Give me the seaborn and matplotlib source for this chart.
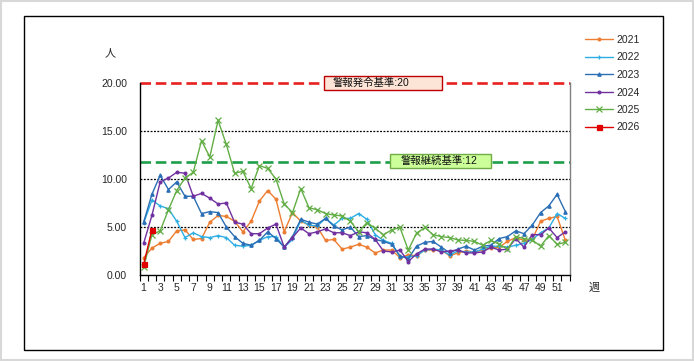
import numpy as np
import pandas as pd
import matplotlib
matplotlib.use("Agg")
import matplotlib.pyplot as plt
from matplotlib.patches import Rectangle
import seaborn as sns

# weekly counts per sentinel site (人), weeks 1..52
weeks = list(range(1, 53))
y2021 = [1.8, 2.8, 3.3, 3.5, 4.6, 4.7, 3.7, 3.8, 5.5, 6.2, 6.1, 5.6, 4.5, 5.6, 7.7, 8.8, 7.9, 4.5, 6.5, 5.6,
         5.2, 5.0, 3.6, 3.7, 2.7, 2.9, 3.2, 2.9, 2.3, 2.6, 2.6, 1.8, 2.1, 2.0, 2.6, 2.6, 2.6, 2.0, 2.3, 2.5,
         2.4, 2.6, 2.8, 2.9, 3.5, 3.9, 3.6, 3.7, 5.6, 5.9, 6.1, 3.6]
y2022 = [5.4, 7.8, 7.2, 6.9, 5.6, 3.9, 4.4, 4.0, 3.9, 4.1, 3.9, 3.1, 3.0, 3.1, 3.6, 4.0, 4.0, 2.9, 3.7, 5.7,
         5.2, 5.1, 5.9, 5.2, 5.9, 5.9, 6.4, 5.8, 4.2, 3.6, 3.3, 1.9, 1.9, 2.0, 2.6, 2.7, 2.6, 2.1, 2.5, 2.4,
         2.4, 2.7, 3.0, 3.0, 2.9, 3.1, 3.3, 3.7, 4.4, 4.9, 6.4, 5.9]
y2023 = [5.5, 8.4, 10.4, 8.9, 9.7, 8.2, 8.2, 6.4, 6.6, 6.5, 5.0, 4.0, 3.3, 3.1, 3.6, 4.5, 3.8, 2.9, 4.0, 5.8,
         5.5, 5.3, 5.9, 5.1, 4.7, 5.0, 4.0, 4.1, 3.7, 3.5, 3.2, 2.0, 1.7, 3.0, 3.4, 3.5, 2.9, 2.3, 2.7, 3.0,
         2.6, 3.0, 3.1, 3.8, 4.0, 4.6, 4.3, 5.2, 6.5, 7.2, 8.4, 6.6]
y2024 = [3.3, 6.2, 9.7, 10.1, 10.7, 10.6, 8.2, 8.5, 8.0, 7.4, 7.5, 5.5, 5.3, 4.3, 4.3, 4.9, 5.3, 2.9, 3.9, 4.9,
         4.3, 4.5, 4.8, 4.4, 4.4, 4.1, 4.5, 4.4, 3.7, 2.5, 2.4, 2.6, 1.4, 2.2, 2.7, 2.7, 2.4, 2.5, 2.6, 2.3,
         2.3, 2.4, 2.9, 2.6, 2.7, 3.8, 2.9, 4.2, 4.2, 4.9, 3.9, 4.5]
y2025 = [0.8, 4.2, 4.6, 6.8, 8.8, 10.1, 10.7, 14.0, 12.3, 16.1, 13.6, 10.6, 10.8, 9.0, 11.4, 11.1, 10.0, 7.4,
         6.5, 9.0, 7.0, 6.8, 6.4, 6.25, 6.15, 5.6, 4.5, 5.45, 4.85, 4.2, 4.7, 4.95, 2.6, 4.35, 4.95, 4.2, 4.0,
         3.9, 3.65, 3.6, 3.5, 3.1, 3.6, 3.2, 2.7, 4.0, 3.8, 3.65, 3.0, 4.1, 3.2, 3.4]
y2026 = [1.1, 4.7]

alert_level = 20
continue_level = 11.8
alert_text = "警報発令基準:20"
continue_text = "警報継続基準:12"

series = [
    ("2021", y2021, "#ED7D31", "o", 2.0),
    ("2022", y2022, "#2CADE3", "+", 3.0),
    ("2023", y2023, "#2A6EB5", "^", 2.4),
    ("2024", y2024, "#7030A0", "o", 2.0),
    ("2025", y2025, "#62AE45", "x", 4.0),
    ("2026", y2026, "#E00000", "s", 3.6),
]

sns.set_style("white")
plt.rcParams["font.family"] = ["Liberation Sans", "Noto Sans CJK JP", "DejaVu Sans"]

W, H = 694, 361
fig = plt.figure(figsize=(W / 100, H / 100), dpi=100)
ax = fig.add_axes([139.5 / W, 1 - 275 / H, 430 / W, 192 / H])

# frames
fig.patches.append(Rectangle((0.002, 0.003), 0.996, 0.994, transform=fig.transFigure,
                             fill=False, edgecolor="#d8d8d8", linewidth=1.5))
fig.patches.append(Rectangle((24 / W, 1 - 350 / H), (663 - 24) / W, (350 - 16) / H,
                             transform=fig.transFigure, fill=False, edgecolor="black", linewidth=1))

# grid lines
for g in [5, 10, 15]:
    ax.axhline(g, color="black", linestyle=(0, (1.5, 1.2)), linewidth=0.9, zorder=1)

# threshold lines
ax.axhline(alert_level, color="#E82020", linestyle=(0, (4, 1.8)), linewidth=1.9, zorder=2, clip_on=False)
ax.axhline(continue_level, color="#1E9E4A", linestyle=(0, (4, 1.8)), linewidth=1.9, zorder=2)

for name, vals, col, mk, ms in series:
    df = pd.DataFrame({"week": weeks[:len(vals)], "value": vals})
    sns.lineplot(data=df, x="week", y="value", ax=ax, color=col, marker=mk, markersize=ms,
                 markeredgecolor=col, markeredgewidth=0.9, linewidth=1.0, label=name,
                 zorder=5 if name == "2026" else 3, legend=False)

ax.set_xlim(0.5, 52.5)
ax.set_ylim(0, 20)
ax.set_xlabel("")
ax.set_ylabel("")

ax.set_xticks(weeks[::2])
ax.set_xticklabels([str(w) for w in weeks[::2]])
ax.set_xticks(np.arange(0.5, 53, 1), minor=True)
ax.tick_params(axis="x", which="major", length=0, pad=6, labelsize=7.5)
ax.tick_params(axis="x", which="minor", length=4, width=0.8, direction="out", color="black", bottom=True)
ax.set_yticks([0, 5, 10, 15, 20])
ax.set_yticklabels([f"{v:.2f}" for v in [0, 5, 10, 15, 20]])
ax.tick_params(axis="y", length=0, pad=9, labelsize=7.5)

ax.spines["top"].set_visible(False)
ax.spines["left"].set_color("black")
ax.spines["bottom"].set_color("black")
ax.spines["right"].set_color("#808080")
for s in ["left", "bottom", "right"]:
    ax.spines[s].set_linewidth(1.0)

# threshold labels
ax.add_patch(Rectangle((22.8, 19.32), 14.3, 1.36, facecolor="#FCE4D6", edgecolor="#C00000",
                       linewidth=1.0, zorder=6, clip_on=False))
ax.text(23.9, 20.0, alert_text, fontsize=7.5, va="center", ha="left", color="#111111", zorder=7)
ax.add_patch(Rectangle((30.8, 11.15), 12.2, 1.45, facecolor="#CCFF99", edgecolor="#70AD47",
                       linewidth=1.0, zorder=6))
ax.text(32.1, 11.87, continue_text, fontsize=7.5, va="center", ha="left", color="#111111", zorder=7)

fig.text(110 / W, 1 - 53 / H, "人", fontsize=8, ha="center", va="center")
fig.text(594 / W, 1 - 288 / H, "週", fontsize=8, ha="center", va="center")

handles, labels = ax.get_legend_handles_labels()
fig.legend(handles, labels, loc="upper left", bbox_to_anchor=(585 / W, 1 - 35 / H),
           frameon=False, fontsize=7.5, handlelength=2.7, handletextpad=0.35,
           labelspacing=0.72, borderaxespad=0, borderpad=0)

fig.savefig("out.png", dpi=100)
